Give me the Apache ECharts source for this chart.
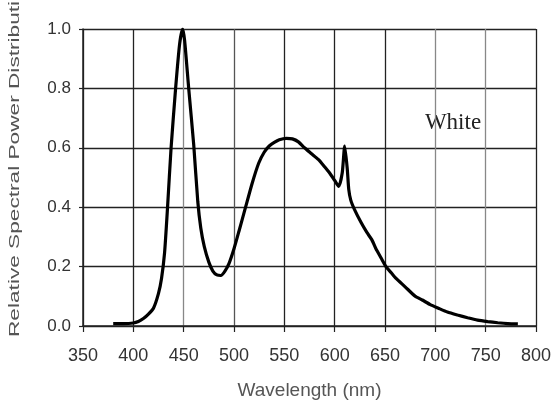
<!DOCTYPE html>
<html>
<head>
<meta charset="utf-8">
<script src="https://cdn.jsdelivr.net/npm/echarts@6/dist/echarts.min.js"></script>
<style>
html,body{margin:0;padding:0;background:#fff;}
#c{width:554px;height:409px;}
</style>
</head>
<body>
<div id="c"></div>
<script>
const wavelengths = [380,390,400,405,410,415,420,425,428,431,434,437.5,442,446,449,451,455,460,464,467,470.5,475,479,483,487,491,495,500,505,511.5,518,524.5,530,535,540,545,552,558,564,570,577,584,590,595,600,604,607.5,610,612.5,614,616,620,626,632,637,641,646,651,656,661,670,680,687,695,703,712,722,732,742,752,762,772,782];
const power = [0.008,0.008,0.01,0.015,0.025,0.04,0.06,0.11,0.16,0.245,0.40,0.60,0.80,0.95,1.0,0.96,0.80,0.61,0.42,0.33,0.267,0.215,0.185,0.172,0.17,0.185,0.21,0.26,0.32,0.40,0.48,0.548,0.585,0.606,0.618,0.627,0.632,0.630,0.62,0.60,0.58,0.56,0.536,0.515,0.49,0.47,0.515,0.606,0.53,0.46,0.424,0.39,0.35,0.315,0.29,0.26,0.23,0.20,0.18,0.16,0.132,0.10,0.0875,0.072,0.06,0.047,0.037,0.028,0.02,0.015,0.011,0.008,0.007];
const xTicks = [350,400,450,500,550,600,650,700,750,800];
const yTicks = [0.0,0.2,0.4,0.6,0.8,1.0];
const xTitle = 'Wavelength (nm)';
const yTitle = 'Relative Spectral Power Distribution';
const seriesLabel = 'White';

const chart = echarts.init(document.getElementById('c'), null, {renderer:'canvas'});
const points = wavelengths.map((w,i)=>[w,power[i]]);
chart.setOption({
  animation:false,
  backgroundColor:'#fff',
  grid:{left:83,right:15,top:29,bottom:83,containLabel:false},
  xAxis:{
    type:'value',min:xTicks[0],max:xTicks[xTicks.length-1],interval:50,
    name:xTitle,nameLocation:'middle',nameGap:55,
    nameTextStyle:{fontFamily:'Liberation Sans',fontSize:19,color:'#555'},
    axisLine:{show:true,lineStyle:{color:'#222',width:1.5}},
    axisTick:{show:true,inside:false,length:6,lineStyle:{color:'#222',width:1.2}},
    axisLabel:{fontFamily:'Liberation Sans',fontSize:18,color:'#333',margin:21},
    splitLine:{show:true,lineStyle:{color:['#222','#222','#888','#555','#222','#222','#222','#888','#888','#222'],width:1.3}}
  },
  yAxis:{
    type:'value',min:yTicks[0],max:yTicks[yTicks.length-1],interval:0.2,
    axisLine:{show:true,lineStyle:{color:'#222',width:1.5}},
    axisTick:{show:true,inside:false,length:4,lineStyle:{color:'#222',width:1.2}},
    axisLabel:{fontFamily:'Liberation Sans',fontSize:17,color:'#333',margin:12,formatter:v=>v.toFixed(1)},
    splitLine:{show:true,lineStyle:{color:'#222',width:1.3}}
  },
  series:[{
    type:'line',name:seriesLabel,data:points,showSymbol:false,smooth:0.2,
    lineStyle:{color:'#000',width:3.2},z:5
  }],
  graphic:[
    {type:'text',x:15,y:337,rotation:Math.PI/2,scaleX:1.51,
     style:{text:yTitle,fontFamily:'Liberation Sans',fontSize:15,fill:'#555',textAlign:'left',textVerticalAlign:'middle'}},
    {type:'text',x:453,y:123,
     style:{text:seriesLabel,fontFamily:'Liberation Serif',fontSize:23,fill:'#222',textAlign:'center',textVerticalAlign:'middle'}}
  ]
});
</script>
</body>
</html>
